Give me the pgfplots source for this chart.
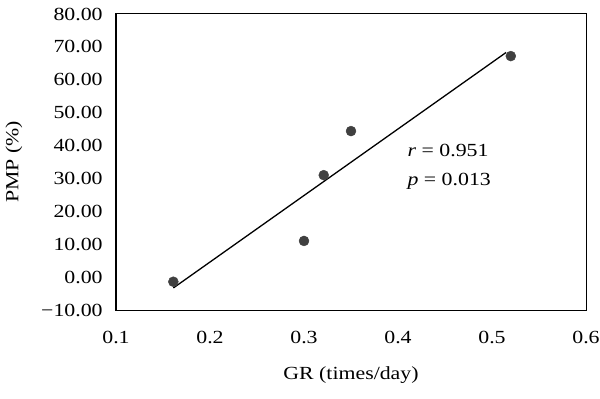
\documentclass[border=0pt]{standalone}
\usepackage{fontspec}
\setmainfont{Liberation Serif}[FakeStretch=1.18]
\usepackage{pgfplots}
\pgfplotsset{compat=1.18}
\definecolor{mk}{HTML}{404040}
\begin{document}
\fontsize{18.5}{22}\selectfont
\begin{tikzpicture}
\begin{axis}[
  scale only axis,
  width=470pt, height=296pt,
  xmin=0.1, xmax=0.6, ymin=-10, ymax=80,
  xtick={0.1,0.2,0.3,0.4,0.5,0.6},
  xticklabels={0.1,0.2,0.3,0.4,0.5,0.6},
  ytick={-10,0,10,20,30,40,50,60,70,80},
  yticklabels={−10.00,0.00,10.00,20.00,30.00,40.00,50.00,60.00,70.00,80.00},
  major tick length=0pt,
  axis line style={line width=1pt, black},
  xticklabel style={yshift=-15pt},
  yticklabel style={xshift=-7pt},
  every axis x label/.style={at={([yshift=-65pt]axis description cs:0.5,0)}, anchor=center},
  every axis y label/.style={at={([xshift=-102pt]axis description cs:0,0.5)}, rotate=90, anchor=center},
  xlabel={GR (times/day)},
  ylabel={PMP (\%)},
  clip=false,
]
\addplot[black, line width=1.3pt] coordinates {(0.161,-3.3) (0.515,68.3)};
\addplot[only marks, mark=*, mark size=5pt, mark options={fill=mk, draw=mk}] coordinates {
  (0.161,-1.4) (0.300,11.0) (0.321,31.0) (0.350,44.4) (0.520,67.2)
};
\node[anchor=base west, inner sep=0pt] at (axis cs:0.41,36.6) {\textit{r} = 0.951};
\node[anchor=base west, inner sep=0pt] at (axis cs:0.41,28.0) {\textit{p} = 0.013};
\end{axis}
\pgfresetboundingbox
\path (current axis.south west) ++(-116pt,-88pt) coordinate (bl);
\path (current axis.north east) ++(14pt,14pt) coordinate (tr);
\path (bl) rectangle (tr);
\end{tikzpicture}
\end{document}
